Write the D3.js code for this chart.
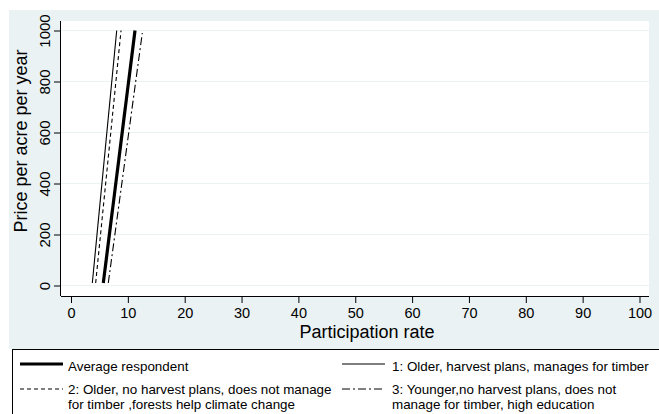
<!DOCTYPE html>
<html>
<head>
<meta charset="utf-8">
<script src="https://cdn.jsdelivr.net/npm/d3@7"></script>
<style>
  html, body { margin: 0; padding: 0; background: #ffffff; }
  svg { display: block; font-family: "Liberation Sans", Arial, Helvetica, sans-serif; }
</style>
</head>
<body>
<svg id="chart" width="659" height="414"></svg>
<script>
// ---- data ----
const xTicks = [0, 10, 20, 30, 40, 50, 60, 70, 80, 90, 100];
const yTicks = [0, 200, 400, 600, 800, 1000];
const xTitle = "Participation rate";
const yTitle = "Price per acre per year";

const seriesNames = [
  "Average respondent",
  "1: Older, harvest plans, manages for timber",
  "2: Older, no harvest plans, does not manage|for timber ,forests help climate change",
  "3: Younger,no harvest plans, does not|manage for timber, high education"
];
// price (y) and participation (x) for each curve
const avgPrice = [10, 1000];
const avgRate  = [5.68, 11.26];
const s1Price  = [10, 1000];
const s1Rate   = [3.75, 8.04];
const s2Price  = [10, 1000];
const s2Rate   = [4.34, 8.80];
const s3Price  = [10, 990];
const s3Rate   = [6.56, 12.54];

const series = [
  { name: seriesNames[0], price: avgPrice, rate: avgRate, width: 3.2, dash: null },
  { name: seriesNames[1], price: s1Price, rate: s1Rate, width: 1.1, dash: null },
  { name: seriesNames[2], price: s2Price, rate: s2Rate, width: 1.1, dash: "4,3" },
  { name: seriesNames[3], price: s3Price, rate: s3Rate, width: 1.1, dash: "8,3,2,3" }
];

// ---- layout ----
const svg = d3.select("#chart");
const bg = "#eaf2f3";
const plot = { left: 61, right: 649, top: 21, bottom: 296 };

svg.append("rect").attr("x", 9).attr("y", 10).attr("width", 655).attr("height", 339).attr("fill", bg);
svg.append("rect").attr("x", plot.left).attr("y", plot.top)
  .attr("width", plot.right - plot.left).attr("height", plot.bottom - plot.top).attr("fill", "#ffffff");

const x = d3.scaleLinear().domain([0, 100]).range([71, 639.5]);
const y = d3.scaleLinear().domain([0, 1000]).range([285.5, 30.5]);

// gridlines
svg.append("g").selectAll("line").data(yTicks).join("line")
  .attr("x1", plot.left).attr("x2", plot.right)
  .attr("y1", d => y(d)).attr("y2", d => y(d))
  .attr("stroke", bg).attr("stroke-width", 1.2);

// x axis
const gx = svg.append("g").attr("transform", `translate(0,${plot.bottom})`)
  .call(d3.axisBottom(x).tickValues(xTicks).tickFormat(d3.format("d")).tickSize(7).tickSizeOuter(0));
gx.select(".domain").attr("d", `M${plot.left},0.5H${plot.right}`).attr("stroke", "#000");
gx.selectAll(".tick line").attr("stroke", "#000");
gx.selectAll(".tick text").attr("font-size", 14.5).attr("fill", "#000").attr("dy", null).attr("y", 22);

// y axis
const gy = svg.append("g").attr("transform", `translate(${plot.left},0)`)
  .call(d3.axisLeft(y).tickValues(yTicks).tickFormat(d3.format("d")).tickSize(7).tickSizeOuter(0));
gy.select(".domain").attr("d", `M-0.5,${plot.top}V${plot.bottom}`).attr("stroke", "#000");
gy.selectAll(".tick line").attr("stroke", "#000");
gy.selectAll(".tick text")
  .attr("font-size", 15).attr("fill", "#000")
  .attr("x", null).attr("dy", null)
  .attr("text-anchor", "middle")
  .attr("transform", "translate(-11,0) rotate(-90)");

// titles
svg.append("text").attr("x", 367).attr("y", 338).attr("text-anchor", "middle")
  .attr("font-size", 18).attr("fill", "#000").text(xTitle);
svg.append("text").attr("transform", "translate(27,141) rotate(-90)").attr("text-anchor", "middle")
  .attr("font-size", 18).attr("fill", "#000").text(yTitle);

// curves
svg.append("clipPath").attr("id", "clip").append("rect")
  .attr("x", plot.left).attr("y", plot.top).attr("width", plot.right - plot.left).attr("height", plot.bottom - plot.top);
const line = d3.line().x(d => x(d[0])).y(d => y(d[1]));
svg.append("g").attr("clip-path", "url(#clip)").selectAll("path").data(series).join("path")
  .attr("d", s => line(s.rate.map((r, i) => [r, s.price[i]])))
  .attr("fill", "none").attr("stroke", "#000")
  .attr("stroke-width", s => s.width)
  .attr("stroke-dasharray", s => s.dash);

// legend
svg.append("rect").attr("x", 12.5).attr("y", 349.5).attr("width", 660).attr("height", 80)
  .attr("fill", "#ffffff").attr("stroke", "#000").attr("stroke-width", 1);

const legendItems = [
  { s: series[0], lx: 20, tx: 68, ly: 364, ty: 371 },
  { s: series[1], lx: 342, tx: 392, ly: 364, ty: 371 },
  { s: series[2], lx: 20, tx: 68, ly: 389, ty: 394 },
  { s: series[3], lx: 342, tx: 392, ly: 389, ty: 394 }
];
const lg = svg.append("g");
legendItems.forEach(it => {
  lg.append("line").attr("x1", it.lx).attr("x2", it.lx + 43)
    .attr("y1", it.ly).attr("y2", it.ly)
    .attr("stroke", "#000").attr("stroke-width", it.s.width)
    .attr("stroke-dasharray", it.s.dash);
  const parts = it.s.name.split("|");
  const t = lg.append("text").attr("font-size", 13.4).attr("fill", "#000");
  parts.forEach((p, i) => {
    t.append("tspan").attr("x", it.tx).attr("y", it.ty + i * 14.5).text(p);
  });
});
</script>
</body>
</html>
